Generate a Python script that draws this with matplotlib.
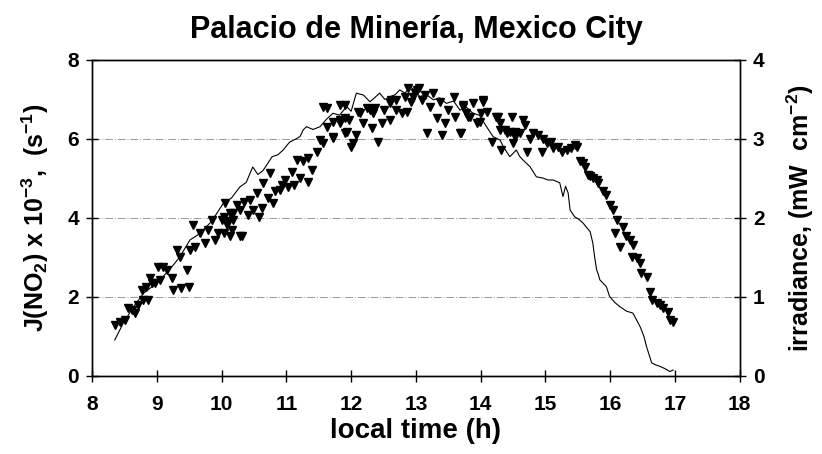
import numpy as np
import matplotlib.pyplot as plt

plt.rcParams['font.family'] = ['Liberation Sans', 'DejaVu Sans']
plt.rcParams['font.weight'] = 'bold'
plt.rcParams['mathtext.fontset'] = 'custom'
plt.rcParams['mathtext.rm'] = 'Liberation Sans:bold'
plt.rcParams['mathtext.bf'] = 'Liberation Sans:bold'
plt.rcParams['mathtext.it'] = 'Liberation Sans:bold'
plt.rcParams['mathtext.default'] = 'rm'

# J(NO2) x 1e-3 (s^-1), triangles
j_pts = [
    (8.35, 1.29), (8.43, 1.37), (8.51, 1.42), (8.56, 1.71), (8.61, 1.67), (8.66, 1.59),
    (8.71, 1.80), (8.77, 2.18), (8.79, 1.92), (8.84, 2.26), (8.87, 1.92), (8.90, 2.47),
    (8.92, 2.35), (8.97, 2.35), (9.02, 2.77), (9.05, 2.43), (9.10, 2.77), (9.15, 2.68),
    (9.23, 2.47), (9.25, 2.18), (9.31, 3.19), (9.36, 3.02), (9.38, 2.22), (9.46, 2.68),
    (9.49, 2.26), (9.51, 3.19), (9.56, 3.82), (9.59, 3.27), (9.67, 3.61), (9.74, 3.36),
    (9.79, 3.70), (9.85, 3.95), (9.90, 3.44), (9.95, 3.61), (10.00, 3.95), (10.03, 3.61),
    (10.05, 4.38), (10.10, 3.91), (10.13, 3.53), (10.16, 3.70), (10.18, 4.12),
    (10.03, 4.03), (10.08, 3.82), (10.13, 4.12), (10.18, 3.95), (10.28, 3.53),
    (10.23, 4.33), (10.28, 4.20), (10.31, 3.53), (10.34, 4.41), (10.41, 4.08), (10.44, 4.46),
    (10.49, 4.20), (10.54, 4.62), (10.57, 4.03), (10.62, 4.24), (10.64, 4.88), (10.72, 4.50),
    (10.75, 5.13), (10.80, 4.37), (10.82, 4.67), (10.90, 4.71), (10.93, 4.84), (10.98, 4.96),
    (11.03, 4.79), (11.08, 5.17), (11.11, 4.84), (11.16, 5.47), (11.21, 5.00), (11.26, 5.43),
    (11.34, 5.51), (11.34, 4.92), (11.39, 5.22), (11.47, 5.68), (11.52, 5.97), (11.57, 5.89),
    (11.57, 6.82), (11.62, 6.31), (11.62, 6.78), (11.72, 6.06), (11.72, 6.02), (11.72, 6.44),
    (11.83, 6.40), (11.83, 6.86), (11.83, 6.48), (11.90, 6.14), (11.90, 6.86), (11.90, 6.52),
    (11.93, 6.18), (11.96, 6.48), (12.00, 5.80), (12.03, 5.89), (12.08, 6.10), (12.11, 6.69),
    (12.14, 6.65), (12.19, 6.40), (12.24, 6.78), (12.29, 6.73), (12.32, 6.27), (12.34, 6.65),
    (12.37, 6.78), (12.42, 5.93), (12.47, 6.40), (12.50, 6.73), (12.60, 6.48), (12.60, 6.90),
    (12.62, 6.99), (12.70, 6.73), (12.70, 6.99), (12.78, 6.65), (12.83, 7.07), (12.86, 6.69),
    (12.88, 7.28), (12.93, 6.94), (12.96, 7.07), (12.98, 7.16), (13.01, 7.24), (13.04, 7.28),
    (13.09, 6.99), (13.14, 7.11), (13.17, 6.14), (13.22, 6.82), (13.27, 7.16), (13.32, 6.52),
    (13.37, 6.94), (13.40, 6.10), (13.45, 6.40), (13.50, 6.73), (13.58, 7.07), (13.60, 6.56),
    (13.68, 6.14), (13.70, 6.14), (13.73, 6.86), (13.73, 6.82), (13.78, 6.65), (13.81, 6.56),
    (13.83, 6.56), (13.88, 6.90), (13.94, 6.40), (13.99, 6.44), (14.01, 6.65), (14.04, 6.94),
    (14.04, 6.99), (14.09, 6.69), (14.17, 5.93), (14.24, 6.56), (14.27, 6.56), (14.30, 6.40),
    (14.30, 6.23), (14.32, 5.72), (14.37, 6.23), (14.40, 6.14), (14.45, 6.18), (14.48, 6.56),
    (14.50, 5.89), (14.53, 6.06), (14.53, 6.18), (14.60, 6.14), (14.65, 6.48), (14.68, 6.35),
    (14.71, 5.68), (14.76, 6.01), (14.81, 6.14), (14.89, 6.10), (14.94, 5.68), (14.96, 6.01),
    (15.02, 5.89), (15.09, 5.93), (15.12, 5.76), (15.20, 5.80), (15.25, 5.68), (15.33, 5.72),
    (15.40, 5.76), (15.45, 5.85), (15.48, 5.80), (15.53, 5.43), (15.58, 5.38), (15.61, 5.30),
    (15.66, 5.09), (15.69, 5.05), (15.74, 5.00), (15.79, 4.96), (15.81, 4.88), (15.89, 4.67),
    (15.94, 4.58), (15.99, 4.33), (16.05, 4.20), (16.07, 3.61), (16.10, 3.95), (16.15, 3.27),
    (16.20, 3.78), (16.25, 3.53), (16.31, 3.44), (16.33, 3.02), (16.35, 3.32), (16.41, 2.98),
    (16.46, 2.85), (16.48, 2.60), (16.56, 2.51), (16.61, 2.13), (16.64, 1.92), (16.72, 1.84),
    (16.77, 1.80), (16.82, 1.71), (16.89, 1.63), (16.92, 1.42), (16.97, 1.37),
]
j_time = [p[0] for p in j_pts]
j_val = [p[1] for p in j_pts]

# irradiance (mW cm^-2), line
irr_time = [8.35, 8.48, 8.64, 8.80, 9.00, 9.20, 9.35, 9.51, 9.66, 9.82, 9.92, 10.03, 10.15,
            10.28, 10.38, 10.48, 10.56, 10.64, 10.72, 10.78, 10.87, 10.95, 11.05, 11.15,
            11.21, 11.26, 11.31, 11.41, 11.52, 11.62, 11.72, 11.82, 11.93, 12.00, 12.08,
            12.19, 12.29, 12.36, 12.44, 12.52, 12.60, 12.68, 12.75, 12.83, 12.91, 12.98,
            13.06, 13.16, 13.27, 13.37, 13.47, 13.58, 13.68, 13.78, 13.88, 13.98, 14.09,
            14.19, 14.30, 14.35, 14.45, 14.55, 14.60, 14.65, 14.76, 14.86, 14.96, 15.04,
            15.12, 15.22, 15.27, 15.31, 15.35, 15.38, 15.45, 15.52, 15.58, 15.69, 15.73,
            15.76, 15.79, 15.81, 15.84, 15.94, 15.99, 16.07, 16.15, 16.25, 16.35, 16.46,
            16.52, 16.56, 16.64, 16.70, 16.77, 16.85, 16.92, 16.97]
irr_val = [0.455, 0.665, 0.875, 1.05, 1.175, 1.35, 1.50, 1.72, 1.80, 1.935, 2.05, 2.19, 2.25,
           2.39, 2.45, 2.645, 2.55, 2.60, 2.70, 2.775, 2.80, 2.86, 2.96, 3.00, 3.03, 3.115,
           3.155, 3.12, 3.155, 3.25, 3.325, 3.30, 3.41, 3.35, 3.58, 3.555, 3.47, 3.52, 3.58,
           3.50, 3.535, 3.56, 3.62, 3.58, 3.66, 3.62, 3.535, 3.56, 3.495, 3.52, 3.45, 3.48,
           3.365, 3.40, 3.325, 3.30, 3.155, 3.03, 2.985, 2.90, 2.775, 2.86, 2.78, 2.735,
           2.65, 2.52, 2.505, 2.48, 2.48, 2.445, 2.27, 2.40, 2.315, 2.10, 2.015, 1.98, 1.935,
           1.825, 1.685, 1.50, 1.34, 1.30, 1.215, 1.13, 1.005, 0.93, 0.875, 0.82, 0.795,
           0.625, 0.50, 0.37, 0.165, 0.14, 0.12, 0.09, 0.055, 0.075]

x_ticks = list(range(8, 19))
j_ticks = [0, 2, 4, 6, 8]
irr_ticks = [0, 1, 2, 3, 4]

fig = plt.figure(figsize=(8.22, 4.54), dpi=100)
ax = fig.add_axes([0.112, 0.172, 0.788, 0.696])
ax2 = ax.twinx()

ax.plot(j_time, j_val, linestyle='none', marker='v', markersize=5.3,
        color='black', zorder=3)
ax2.plot(irr_time, irr_val, color='black', linewidth=0.8, zorder=2)

ax.set_xlim(8, 18)
ax.set_ylim(0, 8)
ax2.set_ylim(0, 4)
ax.set_xticks(x_ticks)
ax.set_yticks(j_ticks)
ax2.set_yticks(irr_ticks)

for y in [2, 4, 6]:
    ax.axhline(y, color='#999999', linewidth=0.7, linestyle=(0, (8, 2, 1, 2)), zorder=1)

for a in (ax, ax2):
    a.tick_params(direction='inout', length=9, width=1, labelsize=15, pad=5)
    for lab in a.get_xticklabels() + a.get_yticklabels():
        lab.set_fontweight('bold')
    for s in a.spines.values():
        s.set_linewidth(1.0)
ax.tick_params(axis='x', pad=9)

ax.set_title('Palacio de Minería, Mexico City', fontsize=22, fontweight='bold', pad=16)
ax.set_xlabel('local time (h)', fontsize=20, fontweight='bold', labelpad=3)
ax.set_ylabel(r'J(NO$_2$) x 10$^{-3}$,  (s$^{-1}$)', fontsize=18, fontweight='bold', labelpad=12)
ax2.set_ylabel(r'irradiance, (mW  cm$^{-2}$)', fontsize=18, fontweight='bold', labelpad=14)

fig.savefig('out.png', dpi=100)
